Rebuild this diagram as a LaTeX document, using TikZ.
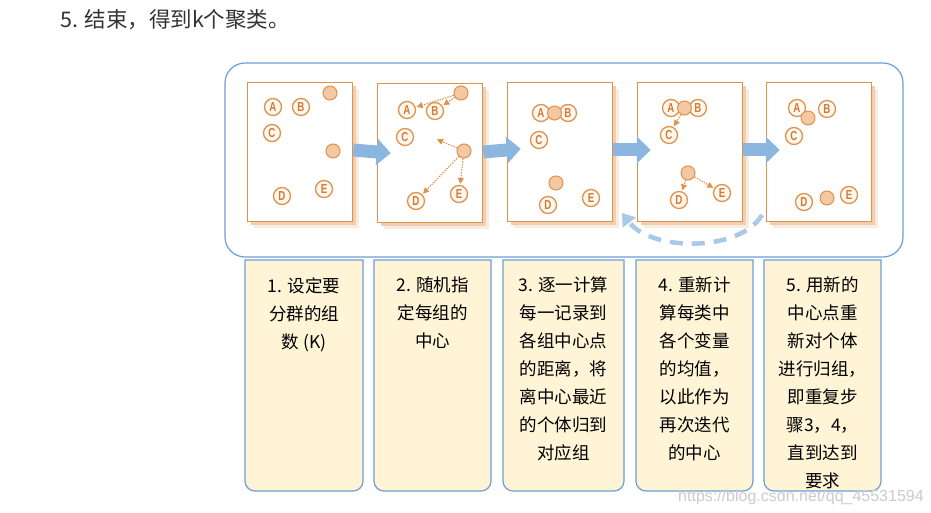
\documentclass[tikz,border=0pt]{standalone}
\usepackage{fontspec}
\setmainfont{Noto Sans CJK SC}
\newfontfamily\letterfont[FakeStretch=0.75]{Liberation Sans}
\newfontfamily\wmfont{Liberation Sans}
\usetikzlibrary{arrows.meta}
\definecolor{ocol}{HTML}{E0914C}
\definecolor{otext}{HTML}{D27A32}
\definecolor{cfill}{HTML}{F2C9A2}
\definecolor{lfill}{HTML}{FFF8F0}
\definecolor{bline}{HTML}{6C9FD6}
\definecolor{barrow}{HTML}{8BB6E0}
\definecolor{dcol}{HTML}{A9C9E9}
\definecolor{yfill}{HTML}{FFF4D6}
\definecolor{tcol}{HTML}{333333}
\newcommand\mkcard[2]{%
  \fill[yfill] (#1,-260) -- (#1,-481) arc[start angle=180,end angle=270,radius=10] -- (#2-10,-491) arc[start angle=270,end angle=360,radius=10] -- (#2,-260) -- cycle;
  \draw[bline,line width=1.2pt] (#1,-260) -- (#1,-481) arc[start angle=180,end angle=270,radius=10] -- (#2-10,-491) arc[start angle=270,end angle=360,radius=10] -- (#2,-260) -- cycle;
}
\newcommand\mkpanel[3]{%
  \fill[ocol!18] (#2-52.5+6.5,#3-69.5-6.5) rectangle (#2+52.5+6.5,#3+69.5-6.5);
  \fill[ocol!45] (#2-52.5+3.5,#3-69.5-3.5) rectangle (#2+52.5+3.5,#3+69.5-3.5);
  \node[panel] (#1) at (#2,#3) {};
}
\begin{document}
\begin{tikzpicture}[x=1pt,y=1pt,
  panel/.style={draw=ocol, line width=1.5pt, fill=white, minimum width=105pt, minimum height=139pt, inner sep=0pt},
  lbl/.style={circle, draw=ocol, line width=1.3pt, fill=lfill, minimum size=17pt, inner sep=0pt, text=otext,
    font=\letterfont\bfseries\fontsize{13}{13}\selectfont},
  ctr/.style={circle, draw=ocol, line width=1pt, fill=cfill, minimum size=14pt, inner sep=0pt},
  dotarr/.style={draw=ocol, line width=1.1pt, dash pattern=on 1.5pt off 1.2pt, -{Triangle[length=6pt,width=6pt]}, shorten >=1pt, shorten <=0pt},
  bigarr/.style={draw=barrow, line width=13pt, -{Triangle[length=14pt,width=26pt]}, shorten >=-14pt},
  dasharr/.style={draw=dcol, line width=4.5pt, dash pattern=on 13pt off 9pt, -{Triangle[length=12pt,width=16pt]}},
  boxtext/.style={align=center, inner sep=0pt, anchor=north, text=black, font=\fontsize{17.5}{28}\selectfont},
]
\useasboundingbox (0,0) rectangle (931,-513);
\fill[white] (0,0) rectangle (931,-513);

% title
\node[anchor=base west, inner sep=0pt, font=\fontsize{21.5}{24}\selectfont, text=tcol] (title) at (60,-27.5) {5. 结束，得到k个聚类。};

% step cards
\mkcard{245}{363}
\mkcard{374}{491}
\mkcard{503}{624}
\mkcard{636}{753}
\mkcard{764}{881}

% big frame
\draw[bline, line width=1.2pt, fill=white, rounded corners=20pt] (225,-63) rectangle (903,-257);

% panels
\mkpanel{P1}{300}{-152}
\mkpanel{P2}{430}{-153}
\mkpanel{P3}{560}{-152}
\mkpanel{P4}{690}{-152}
\mkpanel{P5}{819}{-152}

% panel 1
\node[lbl] (A1) at (273,-107) {A};
\node[lbl] (B1) at (301,-107) {B};
\node[lbl] (C1) at (272,-133) {C};
\node[lbl] (D1) at (282,-196) {D};
\node[lbl] (E1) at (324,-189) {E};
\node[ctr] (c11) at (330,-93) {};
\node[ctr] (c12) at (333,-151) {};

% panel 2
\node[lbl] (A2) at (407,-110) {A};
\node[lbl] (B2) at (435,-111) {B};
\node[lbl] (C2) at (405,-137) {C};
\node[lbl] (D2) at (416,-201) {D};
\node[lbl] (E2) at (459,-194) {E};
\node[ctr] (c21) at (461,-93) {};
\node[ctr] (c22) at (464,-151) {};
\coordinate (x2) at (436,-139);
\draw[dotarr] (c21) -- (A2);
\draw[dotarr] (c21) -- (B2);
\draw[dotarr] (c22) -- (x2);
\draw[dotarr] (c22) -- (D2);
\draw[dotarr] (c22) -- (E2);

% panel 3
\node[lbl] (A3) at (541,-113) {A};
\node[lbl] (B3) at (568,-113) {B};
\node[ctr] (c31) at (554.5,-113) {};
\node[lbl] (C3) at (539,-140) {C};
\node[lbl] (D3) at (548,-205) {D};
\node[lbl] (E3) at (591,-198) {E};
\node[ctr] (c32) at (556,-183) {};

% panel 4
\node[lbl] (A4) at (671,-108) {A};
\node[lbl] (B4) at (698,-108) {B};
\node[ctr] (c41) at (684.5,-108) {};
\node[lbl] (C4) at (669,-135) {C};
\node[lbl] (D4) at (679,-200) {D};
\node[lbl] (E4) at (722,-193) {E};
\node[ctr] (c42) at (688,-173) {};
\draw[dotarr] (c41) -- (C4);
\draw[dotarr] (c42) -- (D4);
\draw[dotarr] (c42) -- (E4);

% panel 5
\node[lbl] (A5) at (797,-108) {A};
\node[lbl] (B5) at (827,-109) {B};
\node[ctr] (c51) at (808,-118) {};
\node[lbl] (C5) at (794,-136) {C};
\node[lbl] (D5) at (804,-202) {D};
\node[lbl] (E5) at (849,-195) {E};
\node[ctr] (c52) at (827,-198) {};

% big arrows
\draw[bigarr] ([yshift=2pt]P1.east) -- ([yshift=1pt]P2.west);
\draw[bigarr] ([yshift=1pt]P2.east) -- ([yshift=2pt]P3.west);
\draw[bigarr] ([yshift=2pt]P3.east) -- ([yshift=2pt]P4.west);
\draw[bigarr] ([yshift=2pt]P4.east) -- ([yshift=2pt]P5.west);

% loop back arrow
\coordinate (ds) at (762,-215);
\coordinate (de) at (622,-213);
\draw[dasharr] (ds) .. controls (740,-252) and (652,-252) .. (de);

% card texts
\node[boxtext] (t1) at (304,-277) {1. 设定要\\分群的组\\数 (K)};
\node[boxtext] (t2) at (432.5,-277) {2. 随机指\\定每组的\\中心};
\node[boxtext] (t3) at (563.5,-277) {3. 逐一计算\\每一记录到\\各组中心点\\的距离，将\\离中心最近\\的个体归到\\对应组};
\node[boxtext] (t4) at (694.5,-277) {4. 重新计\\算每类中\\各个变量\\的均值，\\以此作为\\再次迭代\\的中心};
\node[boxtext] (t5) at (822.5,-277) {5. 用新的\\中心点重\\新对个体\\进行归组，\\即重复步\\骤3，4，\\直到达到\\要求};

% watermark
\node[anchor=base west, inner sep=0pt, font=\wmfont\fontsize{16}{16}\selectfont, text=black!20] (wm) at (678,-501) {https://blog.csdn.net/qq\_45531594};
\end{tikzpicture}
\end{document}
